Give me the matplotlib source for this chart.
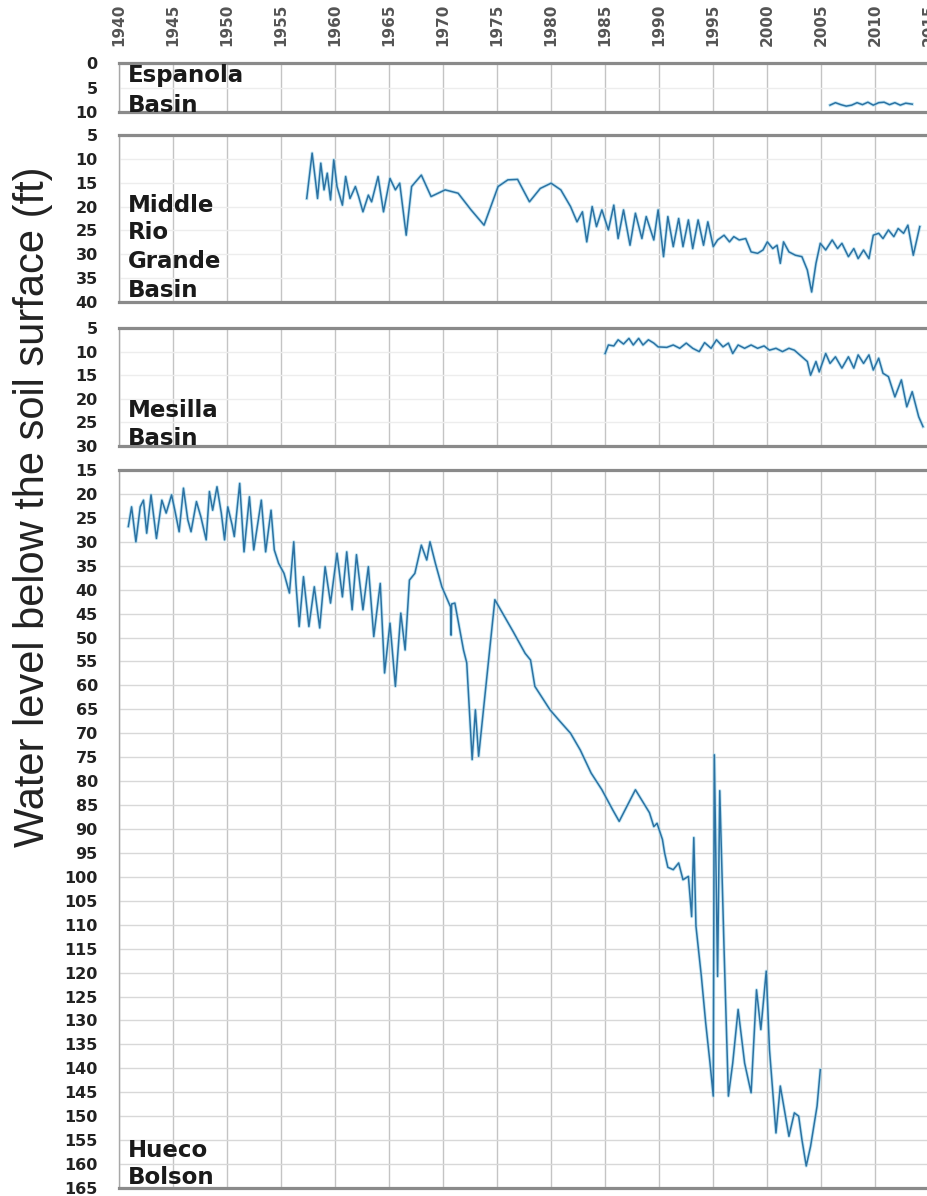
import matplotlib
matplotlib.use("Agg")
import matplotlib.pyplot as plt

# ---------------- data (year, depth below surface in ft) ----------------
esp_years = [2005.8, 2006.3, 2006.8, 2007.3, 2007.8, 2008.3, 2008.8, 2009.3, 2009.8,
             2010.3, 2010.8, 2011.3, 2011.8, 2012.3, 2012.8, 2013.4]
esp_depth = [8.6, 8.1, 8.5, 8.8, 8.6, 8.1, 8.5, 8.0, 8.6, 8.1, 8.0, 8.5, 8.1, 8.6, 8.2, 8.4]

mrg_years = [1957.4, 1957.9, 1958.2, 1958.4, 1958.7, 1959.0, 1959.3, 1959.6, 1959.9, 1960.2,
             1960.7, 1961.0, 1961.4, 1961.9, 1962.2, 1962.6, 1963.1, 1963.4, 1964.0, 1964.5,
             1965.1, 1965.6, 1966.0, 1966.6, 1967.1, 1968.0, 1968.9, 1970.2, 1971.4, 1972.6,
             1973.8, 1975.1, 1976.0, 1976.9, 1978.0, 1979.0, 1980.0, 1980.9, 1981.8, 1982.4,
             1982.9, 1983.3, 1983.8, 1984.2, 1984.7, 1985.3, 1985.8, 1986.2, 1986.7, 1987.3,
             1987.8, 1988.4, 1988.8, 1989.5, 1989.9, 1990.4, 1990.8, 1991.3, 1991.8, 1992.2,
             1992.7, 1993.1, 1993.6, 1994.1, 1994.5, 1995.0, 1995.4, 1996.0, 1996.5, 1996.9,
             1997.4, 1998.0, 1998.5, 1999.1, 1999.6, 2000.0, 2000.5, 2000.9, 2001.2, 2001.5,
             2002.0, 2002.6, 2003.2, 2003.7, 2004.1, 2004.5, 2004.9, 2005.4, 2006.0, 2006.5,
             2006.9, 2007.5, 2008.0, 2008.4, 2008.9, 2009.4, 2009.8, 2010.3, 2010.7, 2011.2,
             2011.7, 2012.1, 2012.6, 2013.0, 2013.5, 2014.1]
mrg_depth = [18.3, 8.8, 14.4, 18.3, 10.9, 16.5, 13.0, 18.6, 10.2, 15.8,
             19.7, 13.7, 18.3, 15.8, 17.9, 21.1, 17.6, 19.0, 13.7, 21.1,
             14.1, 16.5, 15.1, 26.0, 15.8, 13.4, 17.9, 16.5, 17.2, 20.7,
             23.9, 15.8, 14.4, 14.3, 19.0, 16.2, 15.1, 16.5, 20.0, 23.2,
             21.1, 27.4, 20.0, 24.2, 20.7, 24.9, 19.7, 26.7, 20.7, 28.1,
             21.4, 26.7, 22.1, 27.0, 20.7, 30.5, 22.1, 28.4, 22.5, 28.4,
             22.8, 28.8, 22.8, 28.1, 23.2, 28.4, 27.0, 26.0, 27.4, 26.3,
             27.0, 26.7, 29.5, 29.8, 29.1, 27.4, 28.8, 28.1, 31.9, 27.4,
             29.5, 30.2, 30.5, 33.3, 37.9, 31.9, 27.7, 29.1, 27.0, 28.8,
             27.7, 30.5, 28.8, 30.9, 29.1, 30.9, 26.0, 25.6, 26.7, 24.9,
             26.3, 24.6, 25.6, 23.9, 30.2, 24.2]

mes_years = [1985.0, 1985.3, 1985.8, 1986.2, 1986.7, 1987.2, 1987.6, 1988.1, 1988.5, 1989.0,
             1989.5, 1989.9, 1990.7, 1991.3, 1991.9, 1992.5, 1993.1, 1993.7, 1994.2, 1994.8,
             1995.3, 1995.9, 1996.4, 1996.8, 1997.3, 1997.9, 1998.5, 1999.1, 1999.7, 2000.2,
             2000.8, 2001.4, 2002.0, 2002.5, 2003.2, 2003.7, 2004.0, 2004.5, 2004.8, 2005.4,
             2005.8, 2006.3, 2006.9, 2007.5, 2008.0, 2008.4, 2008.9, 2009.4, 2009.8, 2010.3,
             2010.7, 2011.2, 2011.8, 2012.4, 2012.9, 2013.4, 2014.0, 2014.4]
mes_depth = [10.4, 8.6, 8.8, 7.5, 8.4, 7.2, 8.6, 7.2, 8.6, 7.5,
             8.2, 9.0, 9.1, 8.6, 9.3, 8.2, 9.3, 10.0, 8.1, 9.3,
             7.5, 9.0, 8.2, 10.4, 8.6, 9.3, 8.6, 9.3, 8.8, 9.7,
             9.3, 10.0, 9.3, 9.7, 11.1, 12.1, 15.0, 12.1, 14.3, 10.4,
             12.5, 11.1, 13.5, 11.1, 13.5, 10.7, 12.5, 10.7, 13.9, 11.4,
             14.6, 15.3, 19.6, 16.0, 21.7, 18.5, 23.8, 25.9]

hue_years = [1940.9, 1941.2, 1941.6, 1942.0, 1942.3, 1942.6, 1943.0, 1943.5, 1944.0, 1944.4,
             1944.9, 1945.2, 1945.6, 1946.0, 1946.4, 1946.7, 1947.2, 1947.6, 1948.1, 1948.4,
             1948.7, 1949.1, 1949.5, 1949.8, 1950.1, 1950.5, 1950.7, 1951.2, 1951.6, 1952.1,
             1952.5, 1953.2, 1953.6, 1954.1, 1954.4, 1954.8, 1955.3, 1955.8, 1956.2, 1956.4,
             1956.7, 1957.1, 1957.6, 1958.1, 1958.6, 1959.1, 1959.6, 1960.2, 1960.7, 1961.1,
             1961.6, 1962.0, 1962.6, 1963.1, 1963.6, 1964.2, 1964.6, 1965.1, 1965.6, 1966.1,
             1966.5, 1966.9, 1967.4, 1968.0, 1968.5, 1968.8, 1969.3, 1969.9, 1970.7, 1970.75,
             1970.8, 1971.1, 1971.9, 1972.2, 1972.7, 1973.0, 1973.3, 1974.8, 1976.5, 1977.6,
             1978.1, 1978.5, 1979.9, 1980.7, 1981.8, 1982.7, 1983.7, 1984.7, 1985.7, 1986.3,
             1987.8, 1989.1, 1989.5, 1989.8, 1990.3, 1990.5, 1990.8, 1991.3, 1991.8, 1992.2,
             1992.7, 1993.0, 1993.2, 1993.4, 1993.9, 1994.3, 1994.7, 1995.0, 1995.1, 1995.4,
             1995.6, 1996.0, 1996.4, 1996.8, 1997.3, 1997.9, 1998.5, 1999.0, 1999.4, 1999.9,
             2000.2, 2000.8, 2001.2, 2002.0, 2002.5, 2002.9, 2003.2, 2003.6, 2004.0, 2004.6,
             2004.9]
hue_depth = [26.8, 22.7, 30.0, 22.7, 21.3, 28.2, 20.2, 29.3, 21.3, 24.0,
             20.2, 23.4, 27.9, 18.8, 25.4, 27.9, 21.6, 24.7, 29.6, 19.5,
             23.4, 18.5, 24.0, 29.6, 22.7, 26.5, 28.9, 17.8, 32.1, 20.6,
             31.7, 21.3, 32.1, 23.4, 31.7, 34.5, 36.6, 40.7, 30.0, 38.7,
             47.7, 37.3, 47.7, 39.4, 48.0, 35.2, 42.8, 32.4, 41.5, 32.1,
             44.2, 32.7, 44.2, 35.2, 49.8, 38.7, 57.4, 47.0, 60.2, 44.9,
             52.6, 38.0, 36.6, 30.7, 33.8, 30.0, 34.5, 39.4, 43.6, 49.5,
             43.0, 42.8, 52.6, 55.3, 75.5, 65.1, 74.8, 42.1, 48.8, 53.3,
             54.7, 60.2, 65.1, 67.2, 70.0, 73.5, 78.3, 81.8, 86.0, 88.4,
             81.8, 86.6, 89.5, 88.8, 92.2, 95.0, 98.0, 98.5, 97.1, 100.6,
             99.9, 108.3, 91.8, 110.3, 120.8, 130.5, 138.9, 145.8, 74.5, 120.8,
             82.0, 115.2, 145.8, 138.9, 127.7, 138.9, 145.1, 123.6, 131.9, 119.7,
             136.1, 153.5, 143.7, 154.2, 149.3, 150.0, 154.9, 160.4, 156.3, 147.9,
             140.3]

year_ticks = list(range(1940, 2016, 5))
panel_names = [["Espanola", "Basin"], ["Middle", "Rio", "Grande", "Basin"],
               ["Mesilla", "Basin"], ["Hueco", "Bolson"]]
panel_ranges = [(0, 10), (5, 40), (5, 30), (15, 165)]
series = [(esp_years, esp_depth), (mrg_years, mrg_depth),
          (mes_years, mes_depth), (hue_years, hue_depth)]

# ---------------- layout (pixels) ----------------
W, H = 928, 1196
fig = plt.figure(figsize=(W / 100, H / 100), dpi=100)
left_px, right_px = 118.6, 929.5
panel_px = [(63, 112), (135, 302), (328, 446), (470, 1188)]
label_baselines = [[82, 112], [212, 239, 268, 297], [417, 445], [1157, 1184]]

line_dark = "#2c72a3"
line_light = "#8fd0ea"

axes = []
for i, ((top, bot), (lo, hi), (xs, ys)) in enumerate(zip(panel_px, panel_ranges, series)):
    ax = fig.add_axes([left_px / W, 1 - bot / H, (right_px - left_px) / W, (bot - top) / H])
    ax.set_xlim(1940, 2015)
    ax.set_ylim(hi, lo)
    ax.set_xticks(year_ticks)
    ax.set_yticks(list(range(lo, hi + 1, 5)))
    ax.grid(True, axis="x", color="#c4c4c4", lw=1.0)
    ax.grid(True, axis="y", color="#d8d8d8" if i == 3 else "#ededed", lw=1.0)
    ax.set_axisbelow(True)
    ax.plot(xs, ys, color=line_light, lw=2.4, alpha=0.55, solid_joinstyle="round")
    ax.plot(xs, ys, color=line_dark, lw=1.1, solid_joinstyle="round")
    for s in ("top", "bottom"):
        ax.spines[s].set_color("#8a8a8a")
        ax.spines[s].set_linewidth(2.3)
    ax.spines["left"].set_color("#a8a8a8")
    ax.spines["left"].set_linewidth(1.0)
    ax.spines["right"].set_visible(False)
    ax.tick_params(axis="y", length=0, pad=15, labelsize=11.5, labelcolor="#222222")
    for t in ax.get_yticklabels():
        t.set_fontweight("bold")
    if i == 0:
        ax.xaxis.tick_top()
        ax.tick_params(axis="x", length=0, pad=12, labelsize=11, labelcolor="#555555",
                       labelrotation=90)
        for t in ax.get_xticklabels():
            t.set_fontweight("bold")
    else:
        ax.tick_params(axis="x", length=0, labelbottom=False, labeltop=False)
    for name, base in zip(panel_names[i], label_baselines[i]):
        fig.text(128 / W, 1 - base / H, name, fontsize=16.5, fontweight="bold",
                 color="#1a1a1a", ha="left", va="baseline")
    axes.append(ax)

fig.text(33 / W, 1 - 507 / H, "Water level below the soil surface (ft)",
         rotation=90, ha="center", va="center", fontsize=30,
         family="Liberation Sans", color="#222222")

fig.savefig("out.png", dpi=100)
